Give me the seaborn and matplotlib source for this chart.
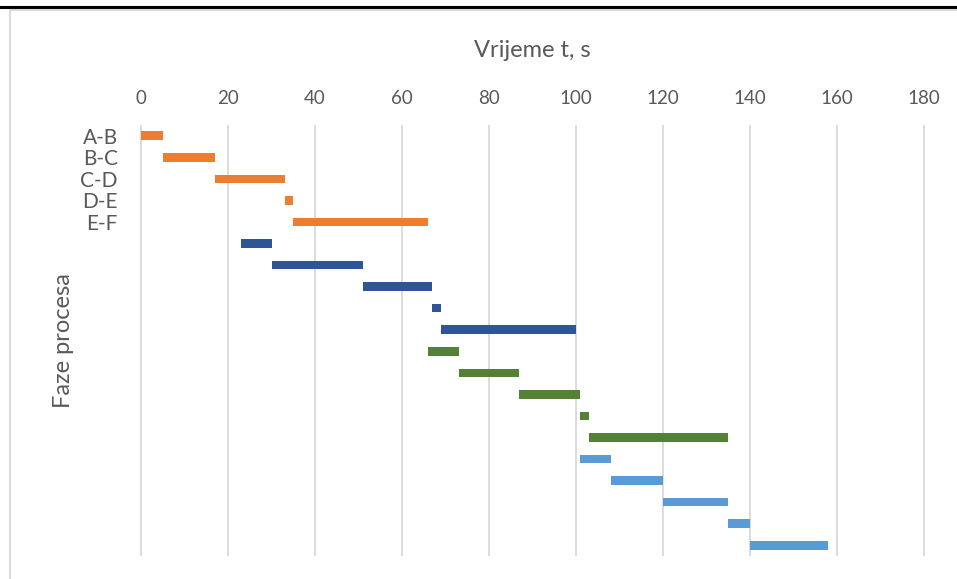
import matplotlib.pyplot as plt
import seaborn as sns
from matplotlib.lines import Line2D

# Gantt data: start and end time (s) of each phase, per group
phase_labels = ["A-B", "B-C", "C-D", "D-E", "E-F"] + [""] * 15
groups = ["orange"] * 5 + ["darkblue"] * 5 + ["green"] * 5 + ["lightblue"] * 5
starts = [0, 5, 17, 33, 35,
          23, 30, 51, 67, 69,
          66, 73, 87, 101, 103,
          101, 108, 120, 135, 140]
ends = [5, 17, 33, 35, 66,
        30, 51, 67, 69, 100,
        73, 87, 101, 103, 135,
        108, 120, 135, 140, 158]
x_ticks = [0, 20, 40, 60, 80, 100, 120, 140, 160, 180]

colors = {"orange": "#ED7D31", "darkblue": "#2F5597",
          "green": "#548235", "lightblue": "#5B9BD5"}
text_color = "#595959"

sns.set_theme(style="white")
plt.rcParams['font.family'] = ['Lato', 'DejaVu Sans']

fig = plt.figure(figsize=(9.57, 5.79), dpi=100)
ax = fig.add_axes([140 / 957, 1 - 556 / 579, (925 - 140) / 957, (556 - 125) / 579])

rows = list(range(len(starts)))
durations = [e - s for s, e in zip(starts, ends)]
bar_colors = [colors[g] for g in groups]
ax.barh(rows, durations, left=starts, height=0.4, color=bar_colors,
        edgecolor="none", zorder=3)

ax.set_xlim(-0.23, 180.23)
ax.set_ylim(len(rows) - 0.5, -0.5)
ax.set_xticks(x_ticks)
ax.xaxis.tick_top()
ax.xaxis.set_label_position("top")
ax.grid(axis="x", color="#D9D9D9", linewidth=1.3, zorder=0)
ax.grid(axis="y", visible=False)
for side in ["top", "bottom", "left", "right"]:
    ax.spines[side].set_visible(False)

ax.set_yticks(rows)
ax.set_yticklabels(phase_labels)
ax.tick_params(axis="y", length=0, pad=16, labelsize=15, labelcolor=text_color)
ax.tick_params(axis="x", length=0, pad=13, labelsize=13.5, labelcolor=text_color)

ax.set_xlabel("Vrijeme t, s", fontsize=17, color=text_color, labelpad=24)
ax.set_ylabel("Faze procesa", fontsize=17, color=text_color, labelpad=0)
ax.yaxis.set_label_coords(-66 / 785, 0.5)

# outer frame lines from the original screenshot
fig.add_artist(Line2D([0, 1], [1 - 7 / 579] * 2, color="black", lw=2.2,
                      transform=fig.transFigure))
fig.add_artist(Line2D([10 / 957, 1], [1 - 9.5 / 579] * 2, color="#D9D9D9", lw=1.5,
                      transform=fig.transFigure))
fig.add_artist(Line2D([10 / 957] * 2, [0, 1 - 9.5 / 579], color="#D9D9D9", lw=1.5,
                      transform=fig.transFigure))

fig.savefig("out.png", dpi=100)
